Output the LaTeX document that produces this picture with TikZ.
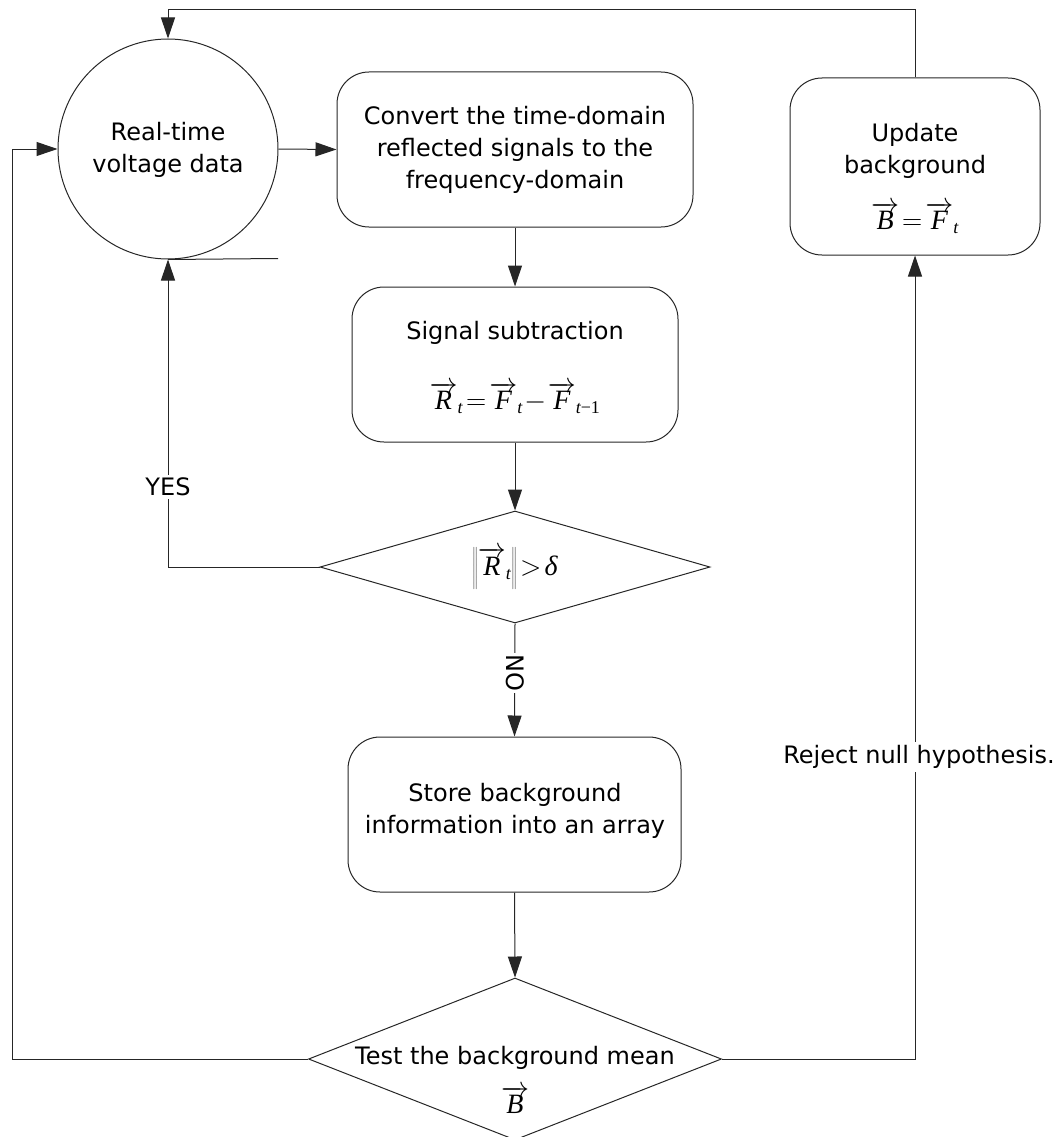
\RequirePackage{fix-cm}
\documentclass[tikz,border=0pt]{standalone}
\usepackage{fontspec}
\setmainfont{DejaVu Sans}
\newfontfamily\tms{Liberation Serif}
\usetikzlibrary{shapes.geometric,arrows.meta}
\newcommand\mvec[1]{\overrightarrow{\hbox{\tms\itshape #1}}}
\newcommand\msub[1]{_{\hbox{\tms\itshape\fontsize{18}{18}\selectfont #1}}}
\newcommand\txtfont{\fontsize{24}{32}\selectfont}
\newcommand\mathfont{\fontsize{28}{32}\selectfont\thickmuskip=2mu\medmuskip=1mu}
\begin{document}
\begin{tikzpicture}[x=1pt,y=-1pt,
  ln/.style={line width=1pt,draw=black!85},
  arr/.style={ln,-{Triangle[length=21pt,width=14pt]}},
  rbox/.style={ln,rectangle,rounded corners=32pt,inner sep=0pt},
  dia/.style={ln,diamond,inner sep=0pt},
  lbl/.style={font=\txtfont,align=center,inner sep=0pt}]
\useasboundingbox (0,0) rectangle (1059,1137);
% shapes
\node[ln,circle,minimum size=220pt,inner sep=0pt] (circ) at (168,149) {};
\node[rbox,minimum width=356pt,minimum height=155pt] (b1) at (515,149.5) {};
\node[rbox,minimum width=326pt,minimum height=155pt] (b2) at (515,364.5) {};
\node[dia,minimum width=390pt,minimum height=112pt] (d1) at (515,567) {};
\node[rbox,minimum width=333pt,minimum height=155pt] (b3) at (514.5,814.5) {};
\node[dia,minimum width=413pt,minimum height=162pt] (d2) at (515,1059) {};
\node[rbox,minimum width=250pt,minimum height=177pt] (b4) at (915,166.5) {};
% texts
\node[lbl] (tc) at (168,150) {Real-time\\voltage data};
\node[lbl] (t1) at (515,150) {Convert the time-domain\\reflected signals to the\\frequency-domain};
\node[lbl] (t2a) at (515,333) {Signal subtraction};
\node[lbl,font=\mathfont] (t2b) at (515,398) {$\mvec{R}\msub{t}=\mvec{F}\msub{t}-\mvec{F}\msub{t\upshape−1}$};
\node[lbl,font=\mathfont] (td1) at (515,568) {$\left\|\mvec{R}\msub{t}\right\|>\hbox{\tms\itshape δ}$};
\node[lbl] (t3) at (515,811) {Store background\\information into an array};
\node[lbl] (td2a) at (515,1058) {Test the background mean};
\node[lbl,font=\mathfont] (td2b) at (515,1100) {$\mvec{B}$};
\node[lbl] (t4a) at (915,151) {Update\\background};
\node[lbl,font=\mathfont] (t4b) at (915,218) {$\mvec{B}=\mvec{F}\msub{t}$};
% connectors
\coordinate (tr) at (915,10);
\coordinate (ll) at (12,1059);
\coordinate (lu) at (12,149);
\draw[arr] (b4.north) -- (tr) -| (circ.north);
\draw[arr] (d2.west) -- (ll) -- (lu) -- (circ.west);
\draw[arr] (d2.east) -| (b4.south);
\draw[arr] (circ.east) -- (b1.west);
\draw[arr] (b1.south) -- (b2.north);
\draw[arr] (b2.south) -- (d1.north);
\draw[arr] (d1.south) -- (b3.north);
\draw[arr] (b3.south) -- (d2.north);
\draw[arr] (d1.west) -| (circ.south);
\coordinate (cs) at (278,258.5);
\draw[ln] (circ.south) -- (cs);
% edge labels
\node[lbl,fill=white,inner sep=3pt] (yes) at (168,487) {YES};
\node[lbl,fill=white,inner sep=2pt,rotate=-90] (no) at (515,673) {NO};
\node[lbl,fill=white,inner sep=3pt] (rej) at (919,757) {Reject null hypothesis.};
\end{tikzpicture}
\end{document}
